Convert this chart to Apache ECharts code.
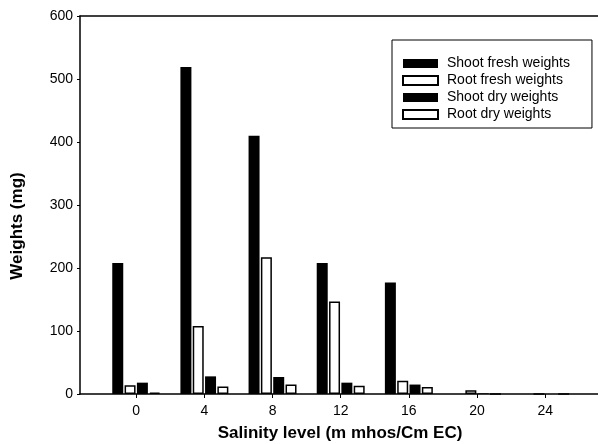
<!DOCTYPE html>
<html>
<head>
<meta charset="utf-8">
<script src="https://cdn.jsdelivr.net/npm/echarts@6/dist/echarts.min.js"></script>
<style>
html,body{margin:0;padding:0;background:#fff;}
#chart{width:598px;height:444px;}
</style>
</head>
<body>
<div id="chart"></div>
<script>
// salinity levels (m mhos/Cm EC)
var salinity = [0, 4, 8, 12, 16, 20, 24];
var shootFresh = [208, 519, 410, 208, 177, 0, 0];
var rootFresh = [14, 108, 217, 147, 21, 6, 0];
var shootDry = [18, 28, 27, 18, 15, 1, 0];
var rootDry = [2, 12, 15, 13, 11, 0, 0];
var yTicks = [0, 100, 200, 300, 400, 500, 600];

var font = 'Liberation Sans, Arial, sans-serif';

function pairs(vals) {
    return salinity.map(function (s, i) { return [s, vals[i]]; });
}

function barSeries(name, vals, hollow) {
    return {
        name: name,
        type: 'bar',
        xAxisIndex: 0,
        data: pairs(vals),
        barWidth: 11,
        barGap: '12%',
        itemStyle: hollow
            ? {color: '#fff', borderColor: '#000', borderWidth: 1.5}
            : {color: '#000'}
    };
}

var chart = echarts.init(document.getElementById('chart'));
var option = {
    animation: false,
    textStyle: {fontFamily: font},
    grid: {left: 80, right: 0, top: 16, bottom: 50},
    legend: {
        orient: 'vertical',
        left: 392,
        top: 40,
        padding: [16, 22, 6, 10],
        itemWidth: 35,
        itemHeight: 9,
        itemGap: 2,
        icon: 'rect',
        borderColor: '#000',
        borderWidth: 1,
        textStyle: {fontSize: 14, color: '#000', lineHeight: 15, padding: [0, 0, 0, 4], fontFamily: font},
        data: ['Shoot fresh weights', 'Root fresh weights', 'Shoot dry weights', 'Root dry weights']
    },
    xAxis: [
        {
            type: 'value',
            min: -3.3,
            max: 27.1,
            splitLine: {show: false},
            axisLine: {onZero: false, lineStyle: {color: '#000', width: 1.5}},
            axisTick: {show: true, length: 4, customValues: salinity, lineStyle: {color: '#000'}},
            axisLabel: {customValues: salinity, color: '#000', fontSize: 14, margin: 10, fontFamily: font}
        },
        {
            type: 'value',
            position: 'top',
            min: -3.3,
            max: 27.1,
            splitLine: {show: false},
            axisLine: {show: true, onZero: false, lineStyle: {color: '#000', width: 1.5}},
            axisTick: {show: false},
            axisLabel: {show: false}
        }
    ],
    yAxis: {
        type: 'value',
        min: 0,
        max: 600,
        interval: 100,
        splitLine: {show: false},
        axisLine: {show: true, onZero: false, lineStyle: {color: '#000', width: 1.5}},
        axisTick: {show: true, length: 3, lineStyle: {color: '#000'}},
        axisLabel: {
            color: '#000', fontSize: 14, margin: 7, fontFamily: font,
            formatter: function (v) { return yTicks.indexOf(v) >= 0 ? String(v) : ''; }
        }
    },
    graphic: [
        {
            type: 'text',
            x: 17,
            y: 226,
            rotation: Math.PI / 2,
            style: {
                text: 'Weights (mg)',
                font: 'bold 17px ' + font,
                fill: '#000',
                align: 'center',
                verticalAlign: 'middle'
            }
        },
        {
            type: 'text',
            x: 340,
            y: 433,
            style: {
                text: 'Salinity level (m mhos/Cm EC)',
                font: 'bold 17px ' + font,
                fill: '#000',
                align: 'center',
                verticalAlign: 'middle'
            }
        }
    ],
    series: [
        barSeries('Shoot fresh weights', shootFresh, false),
        barSeries('Root fresh weights', rootFresh, true),
        barSeries('Shoot dry weights', shootDry, false),
        barSeries('Root dry weights', rootDry, true)
    ]
};
chart.setOption(option);
</script>
</body>
</html>
